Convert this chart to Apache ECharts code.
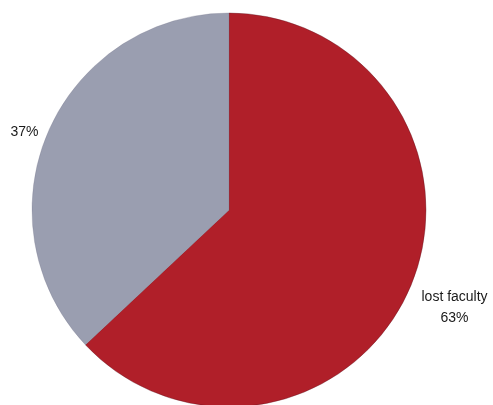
<!DOCTYPE html>
<html><head><meta charset="utf-8">
<script src="https://cdn.jsdelivr.net/npm/echarts@6/dist/echarts.min.js"></script>
<style>html,body{margin:0;padding:0;background:#fff}#c{width:493px;height:405px}</style>
</head><body><div id="c"></div>
<script>
const categories = ['lost faculty', ''];
const values = [63, 37];
const colors = ['#b01f29', '#9a9eb0'];
const borders = ['rgba(90,20,30,0.6)', 'rgba(120,120,140,0.5)'];

const chart = echarts.init(document.getElementById('c'));
chart.setOption({
  animation: false,
  series: [{
    type: 'pie',
    center: [229, 210],
    radius: 197,
    startAngle: 90,
    clockwise: true,
    data: categories.map((n, i) => ({ name: n, value: values[i], itemStyle: { color: colors[i], borderColor: borders[i], borderWidth: 0.6 } })),
    label: {
      show: true,
      position: 'outside',
      formatter: p => p.name ? p.name + '\n' + p.value + '%' : p.value + '%',
      fontFamily: 'Liberation Sans, Arial, sans-serif',
      fontSize: 14,
      lineHeight: 21,
      color: '#1a1a1a',
      overflow: 'none'
    },
    labelLine: { show: false, length: 3, length2: 2 },
    labelLayout: p => p.dataIndex === 0 ? { dy: 18, dx: 35, align: 'center' } : { dx: 0, dy: 2 }
  }]
});
</script></body></html>
